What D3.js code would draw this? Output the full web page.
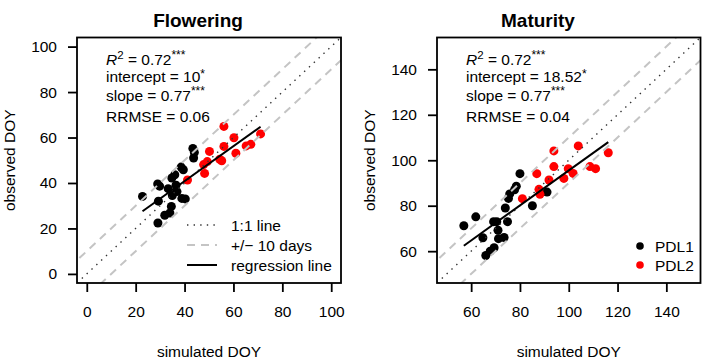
<!DOCTYPE html>
<html><head><meta charset="utf-8">
<script src="https://cdn.jsdelivr.net/npm/d3@7"></script>
<style>
body{margin:0;background:#fff;}
svg{display:block;font-family:"Liberation Sans",Arial,Helvetica,sans-serif;}
</style></head>
<body><svg id="c" width="720" height="359"></svg>
<script>
// ---------------- data ----------------
const panelTitles = ["Flowering", "Maturity"];
const flowTicks = [0, 20, 40, 60, 80, 100];
const matTicks = [60, 80, 100, 120, 140];
const flowDomain = [-4, 104];
const matDomain = [46, 154];

const flowSimPDL1 = [22.8, 29.0, 29.8, 29.3, 29.1, 31.9, 34.0, 34.6, 33.3, 34.8, 36.0, 36.5, 36.9, 35.0, 38.9, 40.3, 38.6, 39.5, 43.4, 44.0, 43.7];
const flowObsPDL1 = [34.1, 39.6, 38.6, 32.0, 22.4, 25.8, 26.8, 29.7, 37.5, 42.2, 43.6, 39.0, 36.2, 34.5, 33.2, 33.0, 47.0, 45.8, 55.2, 53.4, 51.0];
const flowSimPDL2 = [56.1, 60.2, 71.1, 56.1, 61.0, 65.2, 67.1, 50.2, 54.4, 55.2, 49.3, 47.8, 48.2, 41.2];
const flowObsPDL2 = [64.9, 59.9, 61.6, 56.1, 53.1, 56.3, 57.0, 53.9, 50.4, 49.8, 49.4, 48.1, 44.2, 41.3];

const matSimPDL1 = [57.0, 61.9, 64.8, 66.0, 67.8, 69.4, 69.2, 70.5, 71.0, 71.2, 73.5, 74.9, 74.0, 75.3, 75.8, 77.8, 78.5, 80.0, 85.1, 91.1];
const matObsPDL1 = [71.2, 75.1, 65.9, 58.1, 60.0, 61.5, 73.0, 73.0, 69.2, 65.5, 66.0, 73.0, 79.0, 83.2, 85.2, 87.0, 88.6, 94.1, 80.0, 86.0];
const matSimPDL2 = [81.0, 86.9, 87.8, 88.2, 91.9, 93.9, 93.9, 98.0, 99.8, 101.8, 103.9, 108.7, 111.0, 116.2];
const matObsPDL2 = [83.1, 94.1, 87.2, 85.0, 91.3, 104.1, 97.2, 92.0, 96.3, 94.2, 106.3, 97.2, 96.3, 103.3];

const flowStats = {r2: "0.72", r2sig: "***", intercept: "10", intSig: "*", slope: "0.77", slopeSig: "***", rrmse: "0.06"};
const matStats  = {r2: "0.72", r2sig: "***", intercept: "18.52", intSig: "*", slope: "0.77", slopeSig: "***", rrmse: "0.04"};
const flowCoef = [10, 0.77];
const matCoef = [18.52, 0.77];
const offsetDays = 10;
const lineLegend = ["1:1 line", "+/\u2212 10 days", "regression line"];
const groupLegend = ["PDL1", "PDL2"];
const groupColors = ["#000000", "#FF0000"];

// ---------------- drawing ----------------
const svg = d3.select("#c");
const FS = 15.5;
const plotTop = 37.5, plotBottom = 283;

const panels = [
  {title: panelTitles[0], titleX: 198, left: 77, right: 341, domain: flowDomain, ticks: flowTicks,
   sim: [flowSimPDL1, flowSimPDL2], obs: [flowObsPDL1, flowObsPDL2], stats: flowStats, coef: flowCoef, legend: "lines"},
  {title: panelTitles[1], titleX: 538, left: 437, right: 700.5, domain: matDomain, ticks: matTicks,
   sim: [matSimPDL1, matSimPDL2], obs: [matObsPDL1, matObsPDL2], stats: matStats, coef: matCoef, legend: "groups"}
];

panels.forEach((p, pi) => {
  const x = d3.scaleLinear().domain(p.domain).range([p.left, p.right]);
  const y = d3.scaleLinear().domain(p.domain).range([plotBottom, plotTop]);
  const g = svg.append("g");
  const clipId = "clip" + pi;
  svg.append("clipPath").attr("id", clipId).append("rect")
    .attr("x", p.left).attr("y", plotTop).attr("width", p.right - p.left).attr("height", plotBottom - plotTop);

  // points
  p.sim.forEach((arr, gi) => {
    g.append("g").selectAll("circle").data(arr.map((v, i) => [v, p.obs[gi][i]])).join("circle")
      .attr("cx", d => x(d[0])).attr("cy", d => y(d[1])).attr("r", 4.5)
      .attr("fill", groupColors[gi]);
  });

  const lg = g.append("g").attr("clip-path", `url(#${clipId})`);
  const d0 = p.domain[0], d1 = p.domain[1];
  // 1:1 line
  lg.append("line").attr("x1", x(d0)).attr("y1", y(d0)).attr("x2", x(d1)).attr("y2", y(d1))
    .attr("stroke", "#333").attr("stroke-width", 1.4).attr("stroke-dasharray", "1.4,5.2");
  // +/- 10 days
  [offsetDays, -offsetDays].forEach(o => {
    lg.append("line").attr("x1", x(d0 - 20)).attr("y1", y(d0 - 20 + o)).attr("x2", x(d1 + 20)).attr("y2", y(d1 + 20 + o))
      .attr("stroke", "#C4C4C4").attr("stroke-width", 2).attr("stroke-dasharray", "8,6");
  });
  // regression line
  const allSim = p.sim[0].concat(p.sim[1]);
  const xmin = d3.min(allSim), xmax = d3.max(allSim);
  lg.append("line").attr("x1", x(xmin)).attr("y1", y(p.coef[0] + p.coef[1] * xmin))
    .attr("x2", x(xmax)).attr("y2", y(p.coef[0] + p.coef[1] * xmax))
    .attr("stroke", "#000").attr("stroke-width", 2);

  // box
  g.append("rect").attr("x", p.left).attr("y", plotTop).attr("width", p.right - p.left).attr("height", plotBottom - plotTop)
    .attr("fill", "none").attr("stroke", "#000").attr("stroke-width", 1.8);

  // axes
  const ax = g.append("g").attr("transform", `translate(0,${plotBottom})`)
    .call(d3.axisBottom(x).tickValues(p.ticks).tickSize(9).tickPadding(14).tickFormat(d3.format("d")));
  const ay = g.append("g").attr("transform", `translate(${p.left},0)`)
    .call(d3.axisLeft(y).tickValues(p.ticks).tickSize(9).tickPadding(11).tickFormat(d3.format("d")));
  [ax, ay].forEach(a => {
    a.select(".domain").remove();
    a.selectAll("line").attr("stroke", "#000").attr("stroke-width", 1.8);
    a.selectAll("text").attr("font-size", FS).attr("fill", "#000").attr("font-family", "Liberation Sans, Arial, sans-serif");
  });

  // title
  g.append("text").attr("x", p.titleX).attr("y", 27).attr("text-anchor", "middle")
    .attr("font-size", 19).attr("font-weight", "bold").text(p.title);
  // axis labels
  g.append("text").attr("x", (p.left + p.right) / 2).attr("y", 357).attr("text-anchor", "middle")
    .attr("font-size", FS).text("simulated DOY");
  g.append("text").attr("transform", `translate(${p.left - 62},${(plotTop + plotBottom) / 2}) rotate(-90)`)
    .attr("text-anchor", "middle").attr("font-size", FS).text("observed DOY");

  // stats annotation
  const tx = p.left + 29;
  const s = p.stats;
  const t1 = g.append("text").attr("x", tx).attr("y", 65).attr("font-size", FS);
  t1.append("tspan").attr("font-style", "italic").text("R");
  t1.append("tspan").attr("font-size", 11.5).attr("dy", -6).text("2");
  t1.append("tspan").attr("dy", 6).text(" = " + s.r2);
  t1.append("tspan").attr("font-size", 12).attr("dy", -6).text(s.r2sig);
  const t2 = g.append("text").attr("x", tx).attr("y", 82).attr("font-size", FS);
  t2.append("tspan").text("intercept = " + s.intercept);
  t2.append("tspan").attr("font-size", 12).attr("dy", -4).text(s.intSig);
  const t3 = g.append("text").attr("x", tx).attr("y", 101).attr("font-size", FS);
  t3.append("tspan").text("slope = " + s.slope);
  t3.append("tspan").attr("font-size", 12).attr("dy", -6).text(s.slopeSig);
  g.append("text").attr("x", tx).attr("y", 122).attr("font-size", FS).text("RRMSE = " + s.rrmse);

  // legends
  if (p.legend === "lines") {
    const lx0 = 187, lx1 = 217, ltx = 231;
    const styles = [
      {stroke: "#333", w: 1.4, dash: "1.4,5.2"},
      {stroke: "#C4C4C4", w: 2, dash: "8,6"},
      {stroke: "#000", w: 2, dash: null}
    ];
    lineLegend.forEach((lab, i) => {
      const yy = 225 + i * 20;
      const l = g.append("line").attr("x1", lx0).attr("x2", lx1).attr("y1", yy).attr("y2", yy)
        .attr("stroke", styles[i].stroke).attr("stroke-width", styles[i].w);
      if (styles[i].dash) l.attr("stroke-dasharray", styles[i].dash);
      g.append("text").attr("x", ltx).attr("y", yy + 5.5).attr("font-size", FS).text(lab);
    });
  } else {
    groupLegend.forEach((lab, i) => {
      const yy = 246 + i * 19;
      g.append("circle").attr("cx", 640).attr("cy", yy).attr("r", 3.8).attr("fill", groupColors[i]);
      g.append("text").attr("x", 655).attr("y", yy + 5.5).attr("font-size", FS).text(lab);
    });
  }
});
</script></body></html>
